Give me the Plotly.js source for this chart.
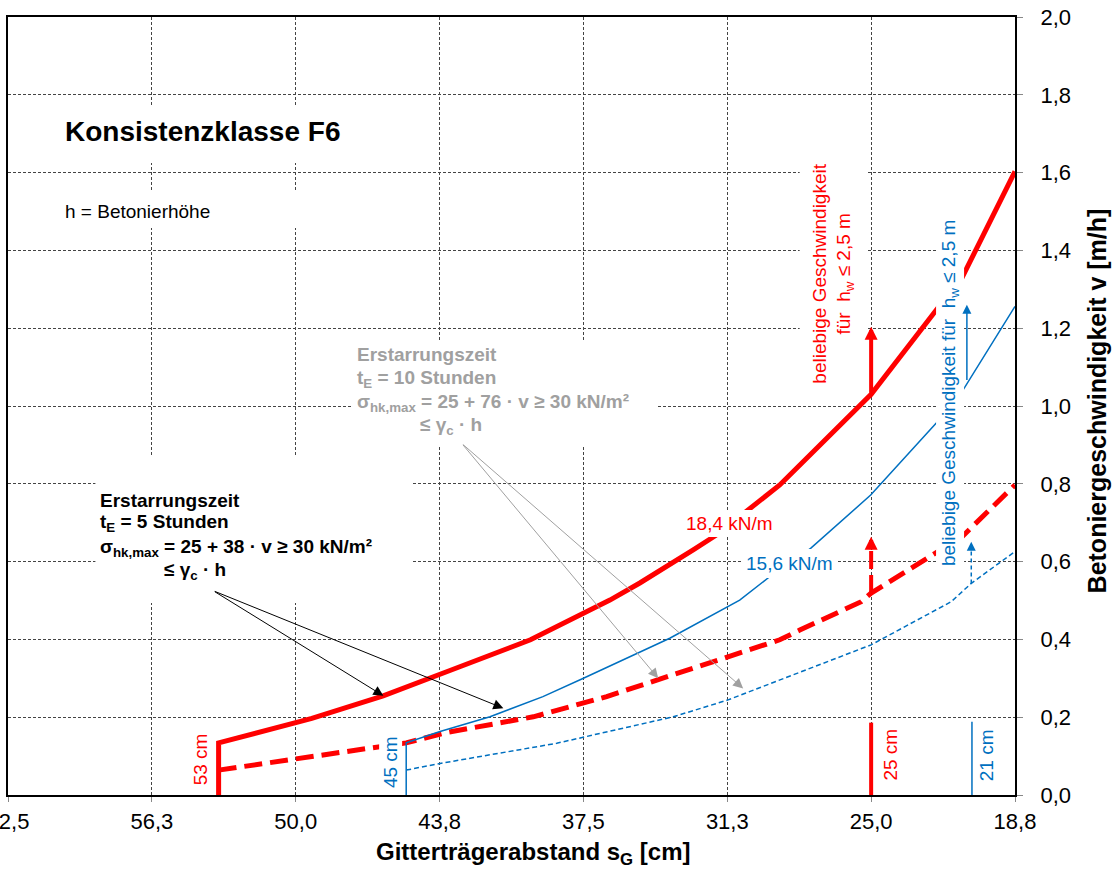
<!DOCTYPE html>
<html><head><meta charset="utf-8">
<script src="https://cdn.plot.ly/plotly-3.0.1.min.js"></script>
<style>html,body{margin:0;padding:0;background:#fff;} #chart{width:1119px;height:870px;}</style>
</head><body><div id="chart"></div>
<script>
// ---------- data ----------
const xTickVals = [62.5, 56.25, 50, 43.75, 37.5, 31.25, 25, 18.75];
const xTickText = ['62,5', '56,3', '50,0', '43,8', '37,5', '31,3', '25,0', '18,8'];
const yTickVals = [0, 0.2, 0.4, 0.6, 0.8, 1.0, 1.2, 1.4, 1.6, 1.8, 2.0];
const yTickText = ['0,0', '0,2', '0,4', '0,6', '0,8', '1,0', '1,2', '1,4', '1,6', '1,8', '2,0'];

// 18,4 kN/m, t_E = 5 h (thick solid red)
const red5S = [53.35, 53.35, 49.3, 46.2, 43.3, 39.8, 36.35, 35.05, 32.73, 31.71, 28.97, 25.0, 22.17, 21.05, 18.75];
const red5V = [0, 0.134, 0.197, 0.255, 0.32, 0.399, 0.501, 0.545, 0.63, 0.669, 0.797, 1.03, 1.247, 1.33, 1.603];
// 18,4 kN/m, t_E = 10 h (thick dashed red)
const red10S = [53.35, 46.6, 45.2, 43.5, 39.68, 36.49, 33.89, 28.97, 28.1, 25.43, 25.0, 22.2, 21.05, 18.75];
const red10V = [0.064, 0.12, 0.134, 0.16, 0.201, 0.253, 0.304, 0.399, 0.424, 0.497, 0.519, 0.621, 0.664, 0.797];
// 15,6 kN/m, t_E = 5 h (thin solid blue)
const blue5S = [45.2, 45.2, 43.73, 41.56, 39.26, 37.5, 33.75, 30.71, 29.41, 27.63, 25.02, 22.17, 21.05, 18.75];
const blue5V = [0, 0.134, 0.163, 0.201, 0.253, 0.30, 0.403, 0.501, 0.561, 0.634, 0.771, 0.956, 1.037, 1.256];
// 15,6 kN/m, t_E = 10 h (thin dashed blue)
const blue10S = [45.2, 43.73, 38.66, 33.6, 31.24, 28.97, 25.0, 21.52, 20.65, 18.75];
const blue10V = [0.064, 0.081, 0.133, 0.201, 0.244, 0.296, 0.386, 0.497, 0.544, 0.626];

// minimum spacing markers (25 cm red, 21 cm blue)
const mark25S = [25.0, 25.0];
const mark25V = [0, 0.186];
const mark21S = [20.62, 20.62];
const mark21V = [0, 0.188];

// vertical "beliebige Geschwindigkeit" arrows: position, from, to
const arrRedSolid = {s: 25.0, from: 1.03, to: 1.204};
const arrRedDash = {s: 25.0, from: 0.519, to: 0.664};
const arrBlueSolid = {s: 20.84, from: 1.063, to: 1.26};
const arrBlueDash = {s: 20.65, from: 0.544, to: 0.651};

// pointer arrows (tail -> heads)
const black5Tail = [53.58, 0.525];
const black5Heads = [[46.19, 0.255], [40.98, 0.223]];
const gray10Tail = [42.79, 0.904];
const gray10Heads = [[34.25, 0.30], [30.56, 0.274]];

// ---------- styling ----------
const RED = '#FF0000', BLUE = '#0070C0', GRAY = '#A0A0A0';
const F = 'Liberation Sans, Arial, sans-serif';
const L = 7.5, R = 1015.5, T = 17, B = 795;
const W = 1119, H = 870;
const px = v => (v - L) / (R - L);
const py = v => (B - v) / (B - T);

const traces = [
  {x: red5S, y: red5V, mode: 'lines', line: {color: RED, width: 5}},
  {x: red10S, y: red10V, mode: 'lines', line: {color: RED, width: 5, dash: '18px,8px'}},
  {x: blue5S, y: blue5V, mode: 'lines', line: {color: BLUE, width: 1.5}},
  {x: blue10S, y: blue10V, mode: 'lines', line: {color: BLUE, width: 1.5, dash: '5px,3px'}},
  {x: mark25S, y: mark25V, mode: 'lines', line: {color: RED, width: 4}},
  {x: mark21S, y: mark21V, mode: 'lines', line: {color: BLUE, width: 1.5}},
  {x: [arrRedDash.s, arrRedDash.s], y: [arrRedDash.from, arrRedDash.to - 0.03], mode: 'lines', line: {color: RED, width: 4, dash: '18px,6px'}},
  {x: [arrBlueDash.s, arrBlueDash.s], y: [arrBlueDash.from, arrBlueDash.to - 0.02], mode: 'lines', line: {color: BLUE, width: 1.5, dash: '4px,3px'}}
];
traces.forEach(t => { t.hoverinfo = 'skip'; t.showlegend = false; t.cliponaxis = false; });

const ann = [];
function txt(text, xp, yp, o) {
  ann.push(Object.assign({text: text, xref: 'paper', yref: 'paper', x: px(xp), y: py(yp),
    xanchor: 'center', yanchor: 'middle', showarrow: false, borderpad: 0, borderwidth: 0,
    font: {family: F, size: 19, color: '#000'}}, o || {}));
}
// headings
txt('<b>Konsistenzklasse F6</b>', 201.7, 131, {font: {family: F, size: 28, color: '#000'}});
txt('h = Betonierhöhe', 137.5, 212, {font: {family: F, size: 19, color: '#000'}});
// black box (t_E = 5 h)
const bl = {xanchor: 'left', font: {family: F, size: 19, color: '#000'}};
txt('<b>Erstarrungszeit</b>', 100, 500, bl);
txt('<b>t<sub>E</sub> = 5 Stunden</b>', 100, 522.5, bl);
txt('<b>σ<sub>hk,max</sub> = 25 + 38 · v ≥ 30 kN/m²</b>', 100, 547.5, bl);
txt('<b>≤ γ<sub>c</sub> · h</b>', 163.3, 571, bl);
// gray box (t_E = 10 h)
const gl = {xanchor: 'left', font: {family: F, size: 19, color: GRAY}};
txt('<b>Erstarrungszeit</b>', 357.3, 355, gl);
txt('<b>t<sub>E</sub> = 10 Stunden</b>', 357.3, 379, gl);
txt('<b>σ<sub>hk,max</sub> = 25 + 76 · v ≥ 30 kN/m²</b>', 357.3, 403, gl);
txt('<b>≤ γ<sub>c</sub> · h</b>', 420, 426, gl);
// line labels
txt('18,4 kN/m', 730, 523, {bgcolor: '#fff', borderpad: 3, font: {family: F, size: 19, color: RED}});
txt('15,6 kN/m', 790, 563.3, {bgcolor: '#fff', borderpad: 4, font: {family: F, size: 19, color: BLUE}});
// rotated notes
txt('beliebige Geschwindigkeit<br>für  h<sub>w</sub> ≤ 2,5 m', 833, 274,
  {textangle: -90, bgcolor: '#fff', borderpad: 9, font: {family: F, size: 19, color: RED}});
txt('beliebige Geschwindigkeit für  h<sub>w</sub> ≤ 2,5 m', 950, 393.5,
  {textangle: -90, bgcolor: '#fff', borderpad: 2, font: {family: F, size: 19, color: BLUE}});
txt('53 cm', 200, 759, {textangle: -90, font: {family: F, size: 19, color: RED}});
txt('45 cm', 390, 762, {textangle: -90, bgcolor: '#fff', borderpad: 1, font: {family: F, size: 19, color: BLUE}});
txt('25 cm', 890, 755, {textangle: -90, font: {family: F, size: 19, color: RED}});
txt('21 cm', 986.7, 755, {textangle: -90, font: {family: F, size: 19, color: BLUE}});
// axis titles
txt('<b>Gitterträgerabstand s<sub>G</sub> [cm]</b>', 533.5, 854, {font: {family: F, size: 24, color: '#000'}});
txt('<b>Betoniergeschwindigkeit v [m/h]</b>', 1098, 401, {textangle: -90, font: {family: F, size: 25, color: '#000'}});

// arrows
function arrow(tail, head, color, width, size) {
  ann.push({x: head[0], y: head[1], ax: tail[0], ay: tail[1], xref: 'x', yref: 'y', axref: 'x', ayref: 'y',
    text: '', showarrow: true, arrowhead: 2, arrowsize: size, arrowwidth: width, arrowcolor: color, standoff: 0});
}
black5Heads.forEach(h => arrow(black5Tail, h, '#000', 1, 2));
gray10Heads.forEach(h => arrow(gray10Tail, h, GRAY, 1, 2));
arrow([arrRedSolid.s, arrRedSolid.from], [arrRedSolid.s, arrRedSolid.to], RED, 4, 0.65);
arrow([arrBlueSolid.s, arrBlueSolid.from], [arrBlueSolid.s, arrBlueSolid.to], BLUE, 1.5, 1.2);
function headOnly(s, v, color, width, size, len) {
  ann.push({x: s, y: v, xref: 'x', yref: 'y', ax: 0, ay: len, text: '', showarrow: true,
    arrowhead: 2, arrowsize: size, arrowwidth: width, arrowcolor: color, standoff: 0});
}
headOnly(arrRedDash.s, arrRedDash.to, RED, 4, 0.65, 14);
headOnly(arrBlueDash.s, arrBlueDash.to, BLUE, 1.5, 1.2, 10);

// white boxes behind the text blocks
function box(x0, y0, x1, y1) {
  return {type: 'rect', xref: 'paper', yref: 'paper', x0: px(x0), x1: px(x1), y0: py(y1), y1: py(y0),
    fillcolor: '#fff', line: {width: 0}, layer: 'above'};
}
const shapes = [box(52, 107, 352, 163), box(58, 192, 300, 228), box(95, 455, 411, 603), box(352, 340, 658, 447)];

const gridStyle = {showgrid: true, gridcolor: '#444', gridwidth: 1, griddash: '3px,2px'};
const layout = {
  width: W, height: H,
  margin: {l: L, r: W - R, t: T, b: H - B, pad: 0},
  paper_bgcolor: '#fff', plot_bgcolor: '#fff',
  separators: ',.',
  showlegend: false,
  font: {family: F, size: 22, color: '#000'},
  xaxis: Object.assign({
    range: [62.5, 18.75], tickvals: xTickVals, ticktext: xTickText,
    showline: true, mirror: true, linecolor: '#000', linewidth: 2,
    ticks: 'outside', ticklen: 5, tickcolor: '#888', tickwidth: 1, ticklabelstandoff: 1,
    ticklabeloverflow: 'allow',
    tickfont: {family: F, size: 22, color: '#000'}, zeroline: false, automargin: false, fixedrange: true
  }, gridStyle),
  yaxis: Object.assign({
    range: [0, 2.0], side: 'right', tickvals: yTickVals, ticktext: yTickText,
    showline: true, mirror: true, linecolor: '#000', linewidth: 2,
    ticks: 'outside', ticklen: 6, tickcolor: '#888', tickwidth: 1, ticklabelstandoff: 13,
    ticklabeloverflow: 'allow',
    tickfont: {family: F, size: 22, color: '#000'}, zeroline: false, automargin: false, fixedrange: true
  }, gridStyle),
  annotations: ann,
  shapes: shapes
};
Plotly.newPlot('chart', traces, layout, {staticPlot: true, displayModeBar: false});
</script>
</body></html>
